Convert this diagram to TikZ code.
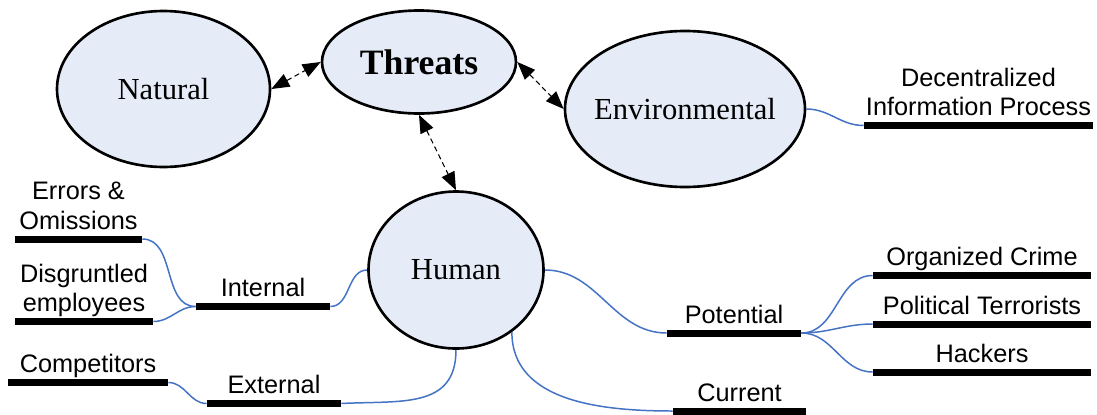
\documentclass[tikz,border=0pt]{standalone}
\usepackage{fontspec}
\setmainfont{Liberation Serif}
\setsansfont{Liberation Sans}
\usetikzlibrary{shapes.geometric, arrows.meta}
\definecolor{topicfill}{RGB}{229,235,247}
\definecolor{linkblue}{RGB}{68,114,196}
\begin{document}
\begin{tikzpicture}[topic/.style={ellipse, draw, line width=1.5pt, fill=topicfill, inner sep=0pt, font=\fontsize{17.4}{20}\selectfont},
        underbar/.style={fill=black, inner sep=0pt, minimum height=0.14cm},
        lbl/.style={anchor=south, inner sep=0pt, text depth=0pt, align=center, font=\sffamily\fontsize{14.4}{16.7}\selectfont},
        link/.style={draw=linkblue, line width=0.85pt},
        >={Triangle[length=3.6mm, width=2.8mm]}]
        \useasboundingbox (0,0) rectangle (21.94,-8.28);
        \node[topic, minimum width=3.88cm, minimum height=2.06cm, font=\bfseries\fontsize{20.3}{24}\selectfont] (thr) at (8.38,-1.24) {Threats};
        \node[topic, minimum width=4.26cm, minimum height=3.12cm] (nat) at (3.27,-1.78) {Natural};
        \node[topic, minimum width=4.8cm, minimum height=3.12cm, inner xsep=-0.2cm] (env) at (13.7,-2.18) {Environmental};
        \node[topic, minimum width=3.5cm, minimum height=3.14cm] (hum) at (9.12,-5.4) {Human};
        \draw[<->, densely dashed, line width=0.6pt] (nat.east) -- (thr.west);
        \draw[<->, densely dashed, line width=0.6pt] (thr.east) -- (env.west);
        \draw[<->, densely dashed, line width=0.6pt] (thr.south) -- (hum.north);
        \node[underbar, minimum width=4.58cm] (decb) at (19.57,-2.51) {};
        \node[underbar, minimum width=2.54cm] (errb) at (1.57,-4.78) {};
        \node[underbar, minimum width=2.76cm] (disb) at (1.68,-6.43) {};
        \node[underbar, minimum width=2.68cm] (intb) at (5.26,-6.13) {};
        \node[underbar, minimum width=3.2cm] (comb) at (1.76,-7.65) {};
        \node[underbar, minimum width=2.68cm] (extb) at (5.48,-8.07) {};
        \node[underbar, minimum width=2.68cm] (potb) at (14.68,-6.66) {};
        \node[underbar, minimum width=2.66cm] (curb) at (14.79,-8.22) {};
        \node[underbar, minimum width=4.36cm] (orgb) at (19.64,-5.51) {};
        \node[underbar, minimum width=4.36cm] (polb) at (19.64,-6.48) {};
        \node[underbar, minimum width=4.36cm] (hacb) at (19.64,-7.44) {};
        \node[lbl] (dect) at ([yshift=1.1mm]decb.north) {Decentralized\\Information Process};
        \node[lbl] (errt) at ([yshift=1.1mm]errb.north) {Errors \&\\Omissions};
        \node[lbl] (dist) at ([yshift=1.1mm]disb.north) {Disgruntled\\employees};
        \node[lbl] (intt) at ([yshift=1.1mm]intb.north) {Internal};
        \node[lbl] (comt) at ([yshift=1.1mm]comb.north) {Competitors};
        \node[lbl] (extt) at ([yshift=1.1mm]extb.north) {External};
        \node[lbl] (pott) at ([yshift=1.1mm]potb.north) {Potential};
        \node[lbl] (curt) at ([yshift=1.1mm]curb.north) {Current};
        \node[lbl] (orgt) at ([yshift=1.1mm]orgb.north) {Organized Crime};
        \node[lbl] (polt) at ([yshift=1.1mm]polb.north) {Political Terrorists};
        \node[lbl] (hact) at ([yshift=1.1mm]hacb.north) {Hackers};
        \draw[link] (env.east) to[out=0, in=180] (decb.west);
        \draw[link] (errb.east) to[out=0, in=180] (intb.west);
        \draw[link] (disb.east) to[out=0, in=180] (intb.west);
        \draw[link] (intb.east) to[out=0, in=180] (hum.west);
        \draw[link] (comb.east) to[out=0, in=180] (extb.west);
        \draw[link] (extb.east) to[out=3, in=-90, looseness=1.2] (hum.south);
        \draw[link] (hum.-48) to[out=-90, in=180] (curb.west);
        \draw[link] (hum.east) to[out=0, in=180] (potb.west);
        \draw[link] (potb.east) to[out=0, in=180] (orgb.west);
        \draw[link] (potb.east) to[out=0, in=180] (polb.west);
        \draw[link] (potb.east) to[out=0, in=180] (hacb.west);
    \end{tikzpicture}
\end{document}
